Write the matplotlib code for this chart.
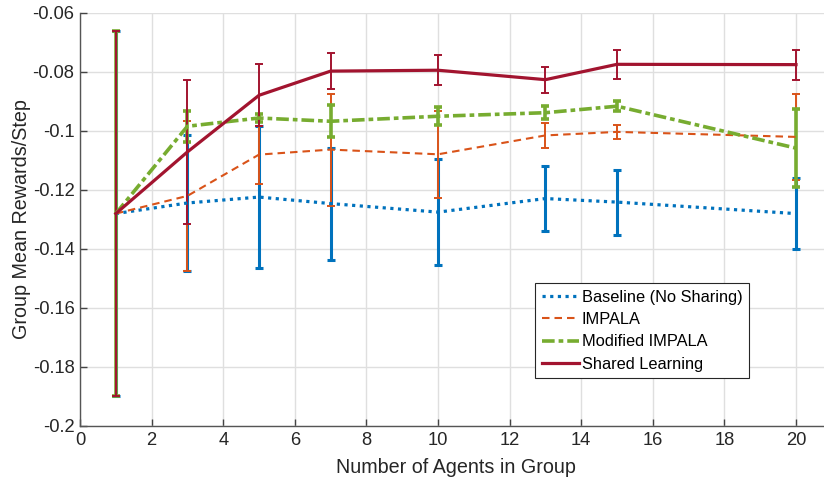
import matplotlib
matplotlib.use("Agg")
import matplotlib.pyplot as plt

plt.rcParams['font.family'] = ['Liberation Sans', 'DejaVu Sans']

# agents in group
agents = [1, 3, 5, 7, 10, 13, 15, 20]

# mean rewards per step and error (half-width)
baseline = [-0.128, -0.1244, -0.1224, -0.1246, -0.1275, -0.1229, -0.1241, -0.1280]
baseline_err = [0.062, 0.023, 0.024, 0.019, 0.018, 0.011, 0.011, 0.012]

impala = [-0.128, -0.1220, -0.1080, -0.1063, -0.1079, -0.1015, -0.1003, -0.1020]
impala_err = [0.062, 0.0255, 0.0098, 0.019, 0.0147, 0.0043, 0.0025, 0.0145]

mod_impala = [-0.128, -0.0984, -0.0956, -0.0967, -0.0950, -0.0938, -0.0916, -0.1058]
mod_impala_err = [0.062, 0.0053, 0.0015, 0.0055, 0.0030, 0.0022, 0.0017, 0.0132]

shared = [-0.128, -0.1071, -0.0879, -0.0797, -0.0794, -0.0826, -0.0774, -0.0775]
shared_err = [0.062, 0.0245, 0.0105, 0.0060, 0.0051, 0.0044, 0.0050, 0.0051]

labels = ['Baseline (No Sharing)', 'IMPALA', 'Modified IMPALA', 'Shared Learning']
colors = ['#0072BD', '#D95319', '#77AC30', '#A2142F']

fig = plt.figure(figsize=(8.24, 4.8), dpi=100)
# axes extends a bit past the right edge, like the cropped original
ax = fig.add_axes([80 / 824, 1 - 426 / 480, 21 * 35.8 / 824, 413 / 480])

series = [
    (baseline, baseline_err, (0, (1, 1.4)), 2.3, 2.2),
    (impala, impala_err, (0, (3.6, 2.4)), 1.5, 1.4),
    (mod_impala, mod_impala_err, (0, (3.5, 1.1, 1.3, 1.1)), 2.6, 2.6),
    (shared, shared_err, '-', 2.3, 1.4),
]

handles = []
for (y, e, ls, lw, elw), c, lab in zip(series, colors, labels):
    cont = ax.errorbar(agents, y, yerr=e, color=c, linestyle=ls, linewidth=lw,
                       elinewidth=elw, capsize=2.9, capthick=elw, label=lab)
    handles.append(cont)

ax.set_xlim(0, 21)
ax.set_ylim(-0.2, -0.06)
ax.set_xticks(range(0, 21, 2))
ax.set_yticks([-0.2, -0.18, -0.16, -0.14, -0.12, -0.1, -0.08, -0.06])
ax.set_yticklabels(['-0.2', '-0.18', '-0.16', '-0.14', '-0.12', '-0.1', '-0.08', '-0.06'])
ax.grid(True, color='#dfdfdf', linewidth=1)
ax.set_axisbelow(True)
for s in ['top', 'right']:
    ax.spines[s].set_visible(False)
for s in ['left', 'bottom']:
    ax.spines[s].set_color('#555555')
    ax.spines[s].set_linewidth(1)
ax.tick_params(direction='in', length=5, width=1, color='#444444',
               labelsize=13.2, labelcolor='#262626', pad=4)

ax.set_xlabel('Number of Agents in Group', fontsize=14.2, color='#262626', labelpad=7)
ax.set_ylabel('Group Mean Rewards/Step', fontsize=14.2, color='#262626', labelpad=1)

leg = ax.legend(handles=[h[0] for h in handles], labels=labels,
                loc='upper left', bbox_to_anchor=(535 / 824, 1 - 283 / 480),
                bbox_transform=fig.transFigure, fontsize=11.8,
                handlelength=2.3, handletextpad=0.15, borderpad=0.4,
                labelspacing=0.45, fancybox=False, framealpha=1,
                borderaxespad=0)
leg.get_frame().set_edgecolor('#262626')
leg.get_frame().set_linewidth(0.8)

fig.savefig('out.png', dpi=100)
